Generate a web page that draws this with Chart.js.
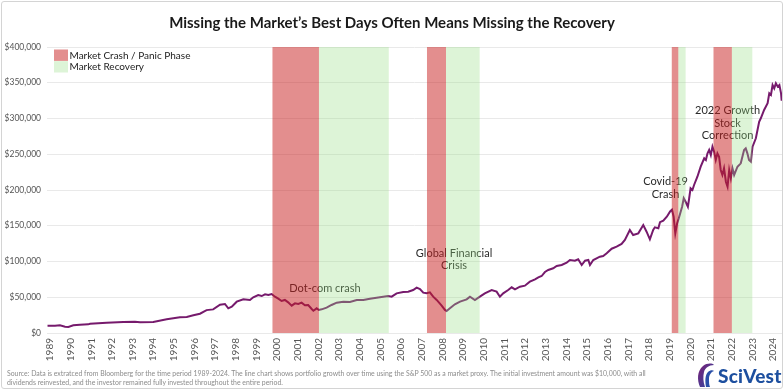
<!DOCTYPE html>
<html>
<head>
<meta charset="utf-8">
<script src="https://cdn.jsdelivr.net/npm/chart.js@4.4.1/dist/chart.umd.min.js"></script>
<style>
  html, body { margin: 0; padding: 0; background: #fff; }
  #wrap { position: relative; width: 784px; height: 392px; overflow: hidden; font-family: Lato, "Noto Sans", sans-serif; }
  #frame { position: absolute; left: 1px; top: 1px; width: 780px; height: 386px; border: 1px solid #d4d4d4; border-radius: 3px; box-sizing: content-box; }
  #title { position: absolute; left: 0; width: 784px; top: 13px; text-align: center; font-size: 15px; font-weight: 700; color: #1a1a1a; }
  #chart { position: absolute; left: 0; top: 0; }
  #note { position: absolute; left: 7px; top: 369px; font-size: 6.9px; line-height: 9px; color: #8c8c8c; white-space: nowrap; }
  #logo { position: absolute; left: 697px; top: 362px; height: 26px; display: flex; align-items: center; }
  #logo span { font-family: Lato, sans-serif; font-weight: 900; font-size: 19px; color: #1d4f9f; margin-left: 3px; letter-spacing: 0.2px; }
</style>
</head>
<body>
<div id="wrap">
  <div id="frame"></div>
  <canvas id="chart" width="784" height="392"></canvas>
  <div id="title">Missing the Market’s Best Days Often Means Missing the Recovery</div>
  <div id="note">Source: Data is extratced from Bloomberg for the time period 1989-2024. The line chart shows portfolio growth over time using the S&amp;P 500 as a market proxy. The initial investment amount was $10,000, with all<br>dividends reinvested, and the investor remained fully invested throughout the entire period.</div>
  <div id="logo">
    <svg width="18" height="26" viewBox="0 0 18 26">
      <defs>
        <linearGradient id="lg" x1="0" y1="0" x2="1" y2="1">
          <stop offset="0" stop-color="#7a1d73"/>
          <stop offset="1" stop-color="#2a4fa8"/>
        </linearGradient>
      </defs>
      <path d="M3 25 C0 18 0 9 6 4 C10 1 15 1 17 3 C12 3 8 6 7 10 C6 14 6 20 8 25 Z" fill="url(#lg)"/>
      <path d="M9 25 C8 19 8 13 11 10 C13 8 16 8 17 9 C14 10 12 13 12 17 C12 20 12 23 13 25 Z" fill="#2a4fa8"/>
    </svg>
    <span>SciVest</span>
  </div>
</div>
<script>
// ---- Data ----
const years = [
  1988.88, 1989.24, 1989.48, 1989.73, 1989.89, 1990.13, 1990.45, 1990.85, 1990.94, 1991.74,
  1992.55, 1993.11, 1993.36, 1994.00, 1994.65, 1995.29, 1995.62, 1995.94, 1996.26, 1996.58,
  1996.90, 1997.23, 1997.47, 1997.63, 1997.80, 1998.04, 1998.36, 1998.68, 1998.84, 1999.08,
  1999.25, 1999.41, 1999.57, 1999.73, 1999.89, 2000.05, 2000.21, 2000.37, 2000.53, 2000.70,
  2000.86, 2001.02, 2001.18, 2001.34, 2001.50, 2001.67, 2001.75, 2001.91, 2002.02, 2002.15,
  2002.39, 2002.63, 2002.88, 2003.20, 2003.52, 2003.85, 2004.17, 2004.49, 2004.81, 2005.13,
  2005.37, 2005.54, 2005.78, 2006.10, 2006.34, 2006.58, 2006.75, 2006.91, 2007.07, 2007.23,
  2007.39, 2007.55, 2007.72, 2007.96, 2008.12, 2008.20, 2008.36, 2008.60, 2008.85, 2009.17,
  2009.33, 2009.57, 2009.81, 2010.05, 2010.38, 2010.62, 2010.78, 2010.94, 2011.18, 2011.35,
  2011.51, 2011.75, 2011.99, 2012.23, 2012.48, 2012.64, 2012.80, 2012.96, 2013.12, 2013.36,
  2013.53, 2013.77, 2014.01, 2014.17, 2014.41, 2014.57, 2014.74, 2014.90, 2015.06, 2015.14,
  2015.30, 2015.62, 2015.78, 2015.95, 2016.19, 2016.43, 2016.67, 2016.83, 2017.07, 2017.23,
  2017.48, 2017.72, 2017.88, 2018.04, 2018.20, 2018.28, 2018.45, 2018.53, 2018.69, 2018.86,
  2019.02, 2019.11, 2019.19, 2019.27, 2019.36, 2019.44, 2019.60, 2019.68, 2019.77, 2019.88,
  2019.93, 2020.01, 2020.10, 2020.18, 2020.34, 2020.50, 2020.67, 2020.75, 2020.83, 2020.91,
  2020.99, 2021.07, 2021.15, 2021.23, 2021.31, 2021.39, 2021.47, 2021.55, 2021.63, 2021.72,
  2021.80, 2021.88, 2021.96, 2022.04, 2022.12, 2022.28, 2022.44, 2022.60, 2022.68, 2022.76,
  2022.84, 2022.93, 2023.01, 2023.17, 2023.33, 2023.41, 2023.57, 2023.74, 2023.82, 2023.90,
  2023.98, 2024.06, 2024.14, 2024.23, 2024.31, 2024.39, 2024.42
];
const portfolioValues = [
  10000, 10200, 10700, 8800, 8400, 10700, 11600, 12100, 13000, 14400,
  15400, 15800, 14900, 15400, 19100, 21900, 22400, 24700, 27000, 32000,
  33000, 39600, 40600, 34500, 36800, 43800, 47100, 46200, 49900, 53100,
  51700, 54100, 53100, 54500, 50800, 48000, 44800, 46200, 42900, 38200,
  41500, 40600, 42400, 38700, 39200, 33600, 31200, 34500, 32200, 33100,
  35400, 39200, 42400, 43800, 43400, 46200, 46200, 48000, 49400, 50800,
  51700, 50800, 55500, 57300, 57800, 60100, 63400, 61500, 56400, 55500,
  56900, 50800, 46200, 38200, 32200, 30800, 34500, 40100, 43800, 47100,
  50800, 46200, 50800, 55500, 60100, 57800, 50800, 55500, 60100, 63900,
  61100, 64800, 66200, 71800, 75100, 77900, 79700, 85300, 88100, 90500,
  93700, 95100, 98300, 102100, 101100, 103100, 95100, 101100, 102100, 95100,
  102100, 106700, 107700, 111500, 117900, 120700, 124500, 130100, 144100, 137100,
  139400, 151000, 141700, 131000, 144100, 147800, 146400, 155000, 157000, 162700,
  170000, 172500, 162700, 139400, 153400, 160400, 176600, 188400, 183600, 176600,
  186000, 202400, 200000, 207000, 218600, 232600, 244300, 242000, 251300, 256000,
  249000, 260600, 253600, 242000, 251300, 246600, 228000, 221000, 230300, 211600,
  204600, 228000, 216300, 230300, 221000, 232600, 237300, 256000, 258300, 251300,
  242000, 239600, 260600, 272300, 295500, 300300, 311900, 321300, 335200, 332900,
  346900, 342200, 349200, 344500, 346900, 335200, 324900
];
const yearTicks = [1989,1990,1991,1992,1993,1994,1995,1996,1997,1998,1999,2000,2001,2002,2003,2004,2005,2006,
  2007,2008,2009,2010,2011,2012,2013,2014,2015,2016,2017,2018,2019,2020,2021,2022,2023,2024];
const valueTicks = [0, 50000, 100000, 150000, 200000, 250000, 300000, 350000, 400000];
const phaseNames = ['Market Crash / Panic Phase', 'Market Recovery'];
const crashStarts = [1999.77, 2007.25, 2019.10, 2021.12];
const crashEnds   = [2002.02, 2008.17, 2019.42, 2022.01];
const recoveryStarts = [2002.02, 2008.17, 2019.42, 2022.01];
const recoveryEnds   = [2005.40, 2009.80, 2019.77, 2023.00];
const eventLabels = [['Dot-com crash'], ['Global Financial', 'Crisis'], ['Covid-19', 'Crash'], ['2022 Growth', 'Stock', 'Correction']];
const eventYears  = [2002.31, 2008.56, 2018.80, 2021.80];
const eventValues = [62900, 111900, 211600, 310900];

// ---- styles ----
const LINE_COLOR = '#761a6c';
const CRASH_FILL = 'rgba(200,30,30,0.5)';
const RECOVERY_FILL = 'rgba(150,220,130,0.32)';
const FONT = 'Lato, "Noto Sans", sans-serif';

const phasePlugin = {
  id: 'phases',
  afterDatasetsDraw(chart) {
    const { ctx, chartArea: a, scales: { x, y } } = chart;
    ctx.save();
    ctx.font = '11px ' + FONT;
    ctx.fillStyle = '#2a2a2a';
    ctx.textAlign = 'center';
    ctx.textBaseline = 'middle';
    eventLabels.forEach((lines, i) => {
      const px = x.getPixelForValue(eventYears[i]);
      const py = y.getPixelForValue(eventValues[i]);
      lines.forEach((t, j) => ctx.fillText(t, px, py + j * 12.6));
    });
    const band = (s, e, color) => {
      const x0 = x.getPixelForValue(s), x1 = x.getPixelForValue(e);
      ctx.fillStyle = color;
      ctx.fillRect(x0, a.top, x1 - x0, a.bottom - a.top);
    };
    crashStarts.forEach((s, i) => band(s, crashEnds[i], CRASH_FILL));
    recoveryStarts.forEach((s, i) => band(s, recoveryEnds[i], RECOVERY_FILL));
    const lx = a.left + 7, ly = a.top + 2.5;
    const colors = [CRASH_FILL, RECOVERY_FILL];
    ctx.textAlign = 'left';
    ctx.font = '10px ' + FONT;
    phaseNames.forEach((name, i) => {
      ctx.fillStyle = colors[i];
      ctx.fillRect(lx, ly + i * 11.6, 14, 11.4);
      ctx.fillStyle = '#222';
      ctx.fillText(name, lx + 15.5, ly + i * 11.6 + 6);
    });
    ctx.restore();
  }
};

new Chart(document.getElementById('chart'), {
  type: 'line',
  data: {
    datasets: [{
      data: years.map((yr, i) => ({ x: yr, y: portfolioValues[i] })),
      borderColor: LINE_COLOR,
      borderWidth: 2,
      pointRadius: 0,
      tension: 0,
      fill: false
    }]
  },
  options: {
    responsive: false,
    animation: false,
    layout: { padding: { top: 47, right: 2, left: 0, bottom: 0 } },
    plugins: { legend: { display: false }, tooltip: { enabled: false }, title: { display: false } },
    scales: {
      x: {
        type: 'linear',
        min: 1988.855,
        max: 2024.436,
        afterBuildTicks: s => { s.ticks = yearTicks.map(v => ({ value: v })); },
        afterFit: s => { s.height = 59; s.paddingLeft = 0; s.paddingRight = 0; },
        grid: { display: false, drawTicks: false },
        border: { display: false },
        ticks: {
          autoSkip: false,
          minRotation: 90,
          maxRotation: 90,
          padding: 5,
          color: '#555',
          font: { family: FONT, size: 10 },
          callback: v => String(v)
        }
      },
      y: {
        min: 0,
        max: 400000,
        afterBuildTicks: s => { s.ticks = valueTicks.map(v => ({ value: v })); },
        afterFit: s => { s.width = 47; },
        grid: { color: '#e9e9e9', drawTicks: false, lineWidth: 1 },
        border: { display: false },
        ticks: {
          padding: 6,
          color: '#555',
          font: { family: FONT, size: 8.5 },
          callback: v => '$' + v.toLocaleString('en-US')
        }
      }
    }
  },
  plugins: [phasePlugin]
});
</script>
</body>
</html>
